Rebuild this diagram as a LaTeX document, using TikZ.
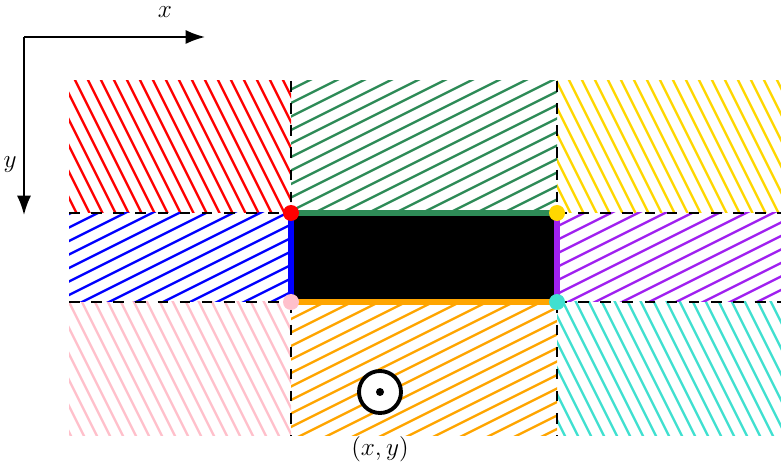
\documentclass[tikz,border=0pt]{standalone}
\usepackage{amsmath}
\usepackage{tikz}
\usetikzlibrary{arrows.meta,positioning,calc}
\definecolor{seagreen}{RGB}{46,139,87}
\definecolor{gold}{RGB}{255,215,0}
\definecolor{vpurple}{RGB}{160,32,240}
\definecolor{lpink}{RGB}{255,192,203}
\definecolor{lorange}{RGB}{255,165,0}
\definecolor{turq}{RGB}{64,224,208}

\begin{document}
\begin{tikzpicture}[x=0.02cm, y=-0.02cm,
  hatch/.style={line width=1.35pt},
  edgeline/.style={line width=2.9pt},
  corner/.style={circle, fill=#1, inner sep=0pt, minimum size=0.32cm},
  gridline/.style={dash pattern=on 6pt off 6.6pt, line width=0.6pt}]
  \useasboundingbox (0,0) rectangle (781,469);

  % steep hatching (corners)
  \foreach \xa/\xb/\ya/\yb/\col in {69/291/81/213/red, 557/781/81/213/gold,
                                    69/291/302/436/lpink, 557/781/302/436/turq} {
    \begin{scope}
      \clip (\xa,\ya) rectangle (\xb,\yb);
      \foreach \s in {-160,-147,...,770}
        \draw[hatch, \col] (\s,0) -- ++(300,600);
    \end{scope}
  }
  % shallow hatching (sides)
  \foreach \xa/\xb/\ya/\yb/\col in {291/557/81/213/seagreen, 69/291/213/302/blue,
                                    557/781/213/302/vpurple, 291/557/302/436/lorange} {
    \begin{scope}
      \clip (\xa,\ya) rectangle (\xb,\yb);
      \foreach \t in {100,113.5,...,850}
        \draw[hatch, \col] (0,\t) -- ++(1000,-500);
    \end{scope}
  }

  % dashed borders
  \draw[gridline] (291,81) -- (291,436);
  \draw[gridline] (557,81) -- (557,436);
  \draw[gridline] (69,213) -- (781,213);
  \draw[gridline] (69,302) -- (781,302);

  % obstacle
  \coordinate (tl) at (291,213);
  \coordinate (tr) at (557,213);
  \coordinate (bl) at (291,302);
  \coordinate (br) at (557,302);
  \fill[black] (tl) rectangle (br);
  \draw[edgeline, seagreen] (tl) -- (tr);
  \draw[edgeline, blue] (tl) -- (bl);
  \draw[edgeline, vpurple] (tr) -- (br);
  \draw[edgeline, lorange] (bl) -- (br);
  \node[corner=red] (ctl) at (tl) {};
  \node[corner=gold] (ctr) at (tr) {};
  \node[corner=lpink] (cbl) at (bl) {};
  \node[corner=turq] (cbr) at (br) {};

  % axes
  \coordinate (o) at (24,37);
  \coordinate (xe) at (205,37);
  \coordinate (ye) at (24,215);
  \draw[-{Latex[length=11pt,width=8pt]}, line width=1.1pt] (o) -- (xe);
  \draw[-{Latex[length=11pt,width=8pt]}, line width=1.1pt] (o) -- (ye);
  \node[font=\Large, inner sep=0pt] (xl) at (165,12) {$x$};
  \node[font=\Large, inner sep=0pt] (yl) at (10,165) {$y$};

  % position
  \node[circle, draw, fill=white, line width=2.2pt, minimum size=0.84cm] (pos) at (380,392) {};
  \node[circle, fill=black, inner sep=0pt, minimum size=0.16cm] (posc) at (pos) {};
  \node[font=\Large, below=9pt of pos] (lbl) {$(x,y)$};
\end{tikzpicture}
\end{document}
